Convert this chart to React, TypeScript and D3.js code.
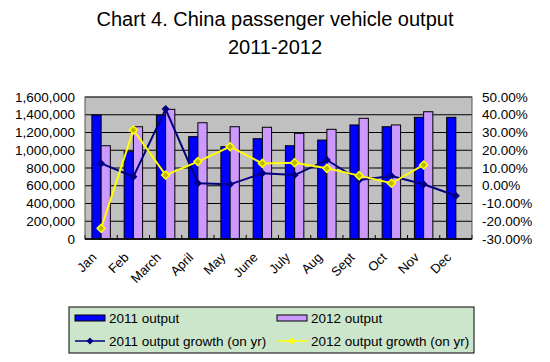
import React from "react";
import { scaleBand, scaleLinear, line, range } from "d3";

const months = ["Jan", "Feb", "March", "April", "May", "June", "July", "Aug", "Sept", "Oct", "Nov", "Dec"];
const output2011 = [1397000, 984000, 1395000, 1153000, 1040000, 1130000, 1051000, 1115000, 1285000, 1265000, 1371000, 1371000];
const output2012 = [1051000, 1265000, 1461000, 1310000, 1265000, 1259000, 1191000, 1236000, 1360000, 1285000, 1434000, null];
const growth2011 = [12.6, 5.1, 43.2, 1.4, 0.8, 7.0, 6.0, 14.5, 3.2, 5.5, 0.8, -5.6];
const growth2012 = [-24.0, 31.4, 6.0, 13.6, 22.0, 12.6, 13.0, 9.8, 5.7, 1.4, 11.7, null];
const leftTicks = range(0, 1600001, 200000);
const rightTicks = range(-30, 51, 10);

const App = () => {
  const width = 550;
  const height = 362;
  const margin = { top: 97, right: 78, bottom: 123, left: 85 };
  const innerWidth = width - margin.left - margin.right;
  const innerHeight = height - margin.top - margin.bottom;

  const xScale = scaleBand().domain(months).range([0, innerWidth]);
  const bw = xScale.bandwidth() / 3.5;
  const yLeft = scaleLinear().domain([0, 1600000]).range([innerHeight, 0]);
  const yRight = scaleLinear().domain([-30, 50]).range([innerHeight, 0]);
  const cx = (m: string) => (xScale(m) as number) + xScale.bandwidth() / 2;

  const growthLine = line<{ m: string; v: number | null }>()
    .defined((d) => d.v !== null)
    .x((d) => cx(d.m))
    .y((d) => yRight(d.v as number));

  const g11 = months.map((m, i) => ({ m, v: growth2011[i] }));
  const g12 = months.map((m, i) => ({ m, v: growth2012[i] }));
  const font = "Arial, 'Liberation Sans', sans-serif";
  const diamond = (x: number, y: number, r: number) => `M${x},${y - r}L${x + r},${y}L${x},${y + r}L${x - r},${y}Z`;

  return (
    <svg width={width} height={height} style={{ position: "absolute", left: 0, top: 0 }} fontFamily={font}>
      <rect width={width} height={height} fill="white" />
      <text x={275} y={26} textAnchor="middle" fontSize={20}>Chart 4. China passenger vehicle output</text>
      <text x={275} y={54} textAnchor="middle" fontSize={20}>2011-2012</text>
      <g transform={`translate(${margin.left},${margin.top})`}>
        <rect width={innerWidth} height={innerHeight} fill="#C0C0C0" />
        {leftTicks.map((t) => (
          <line key={t} x1={0} x2={innerWidth} y1={yLeft(t)} y2={yLeft(t)} stroke="black" strokeWidth={1} />
        ))}
        {months.map((m, i) => (
          <g key={m}>
            <rect x={xScale(m) as number + bw * 0.75} y={yLeft(output2011[i])} width={bw} height={innerHeight - yLeft(output2011[i])} fill="#0000FF" stroke="black" strokeWidth={1} />
            {output2012[i] !== null && (
              <rect x={xScale(m) as number + bw * 1.75} y={yLeft(output2012[i] as number)} width={bw} height={innerHeight - yLeft(output2012[i] as number)} fill="#CC99FF" stroke="black" strokeWidth={1} />
            )}
          </g>
        ))}
        {months.map((m) => (
          <line key={m} x1={xScale(m) as number} x2={xScale(m) as number} y1={innerHeight} y2={innerHeight - 4} stroke="black" />
        ))}
        <line x1={innerWidth} x2={innerWidth} y1={innerHeight} y2={innerHeight - 4} stroke="black" />
        <rect width={innerWidth} height={innerHeight} fill="none" stroke="#555" strokeWidth={1} />
        <line x1={0} x2={innerWidth} y1={innerHeight} y2={innerHeight} stroke="black" strokeWidth={1.5} />
        <path d={growthLine(g11) as string} fill="none" stroke="#000080" strokeWidth={2} />
        {g11.map((d) => (
          <path key={d.m} d={diamond(cx(d.m), yRight(d.v as number), 4)} fill="#000080" />
        ))}
        <path d={growthLine(g12) as string} fill="none" stroke="#FFFF00" strokeWidth={2} />
        {g12.filter((d) => d.v !== null).map((d) => (
          <path key={d.m} d={diamond(cx(d.m), yRight(d.v as number), 4)} fill="#B8B800" stroke="#FFFF00" strokeWidth={1.5} />
        ))}
        {leftTicks.map((t) => (
          <text key={t} x={-10} y={yLeft(t)} dy="0.35em" textAnchor="end" fontSize={13.5}>
            {t.toLocaleString("en-US")}
          </text>
        ))}
        {rightTicks.map((t) => (
          <text key={t} x={innerWidth + 10} y={yRight(t)} dy="0.35em" textAnchor="start" fontSize={13.5}>
            {t.toFixed(2)}%
          </text>
        ))}
        {months.map((m) => (
          <text key={m} transform={`translate(${cx(m) - 7},${innerHeight + 16}) rotate(-45)`} textAnchor="end" dy="0.35em" fontSize={13}>
            {m}
          </text>
        ))}
      </g>
      <g transform="translate(69,307)" fontSize={13.5}>
        <rect width={405} height={46} fill="#CCE6CC" stroke="black" strokeWidth={1} />
        <rect x={6} y={8} width={30} height={6} fill="#0000FF" stroke="black" />
        <text x={40} y={11} dy="0.35em">2011 output</text>
        <rect x={208} y={8} width={30} height={6} fill="#CC99FF" stroke="black" />
        <text x={242} y={11} dy="0.35em">2012 output</text>
        <line x1={6} x2={36} y1={34} y2={34} stroke="#000080" strokeWidth={1.5} />
        <path d={diamond(21, 34, 3.5)} fill="#000080" />
        <text x={40} y={34} dy="0.35em">2011 output growth (on yr)</text>
        <line x1={208} x2={238} y1={34} y2={34} stroke="#FFFF00" strokeWidth={1.5} />
        <path d={diamond(223, 34, 3.5)} fill="#FFFF00" />
        <text x={242} y={34} dy="0.35em">2012 output growth (on yr)</text>
      </g>
    </svg>
  );
};

export default App;
